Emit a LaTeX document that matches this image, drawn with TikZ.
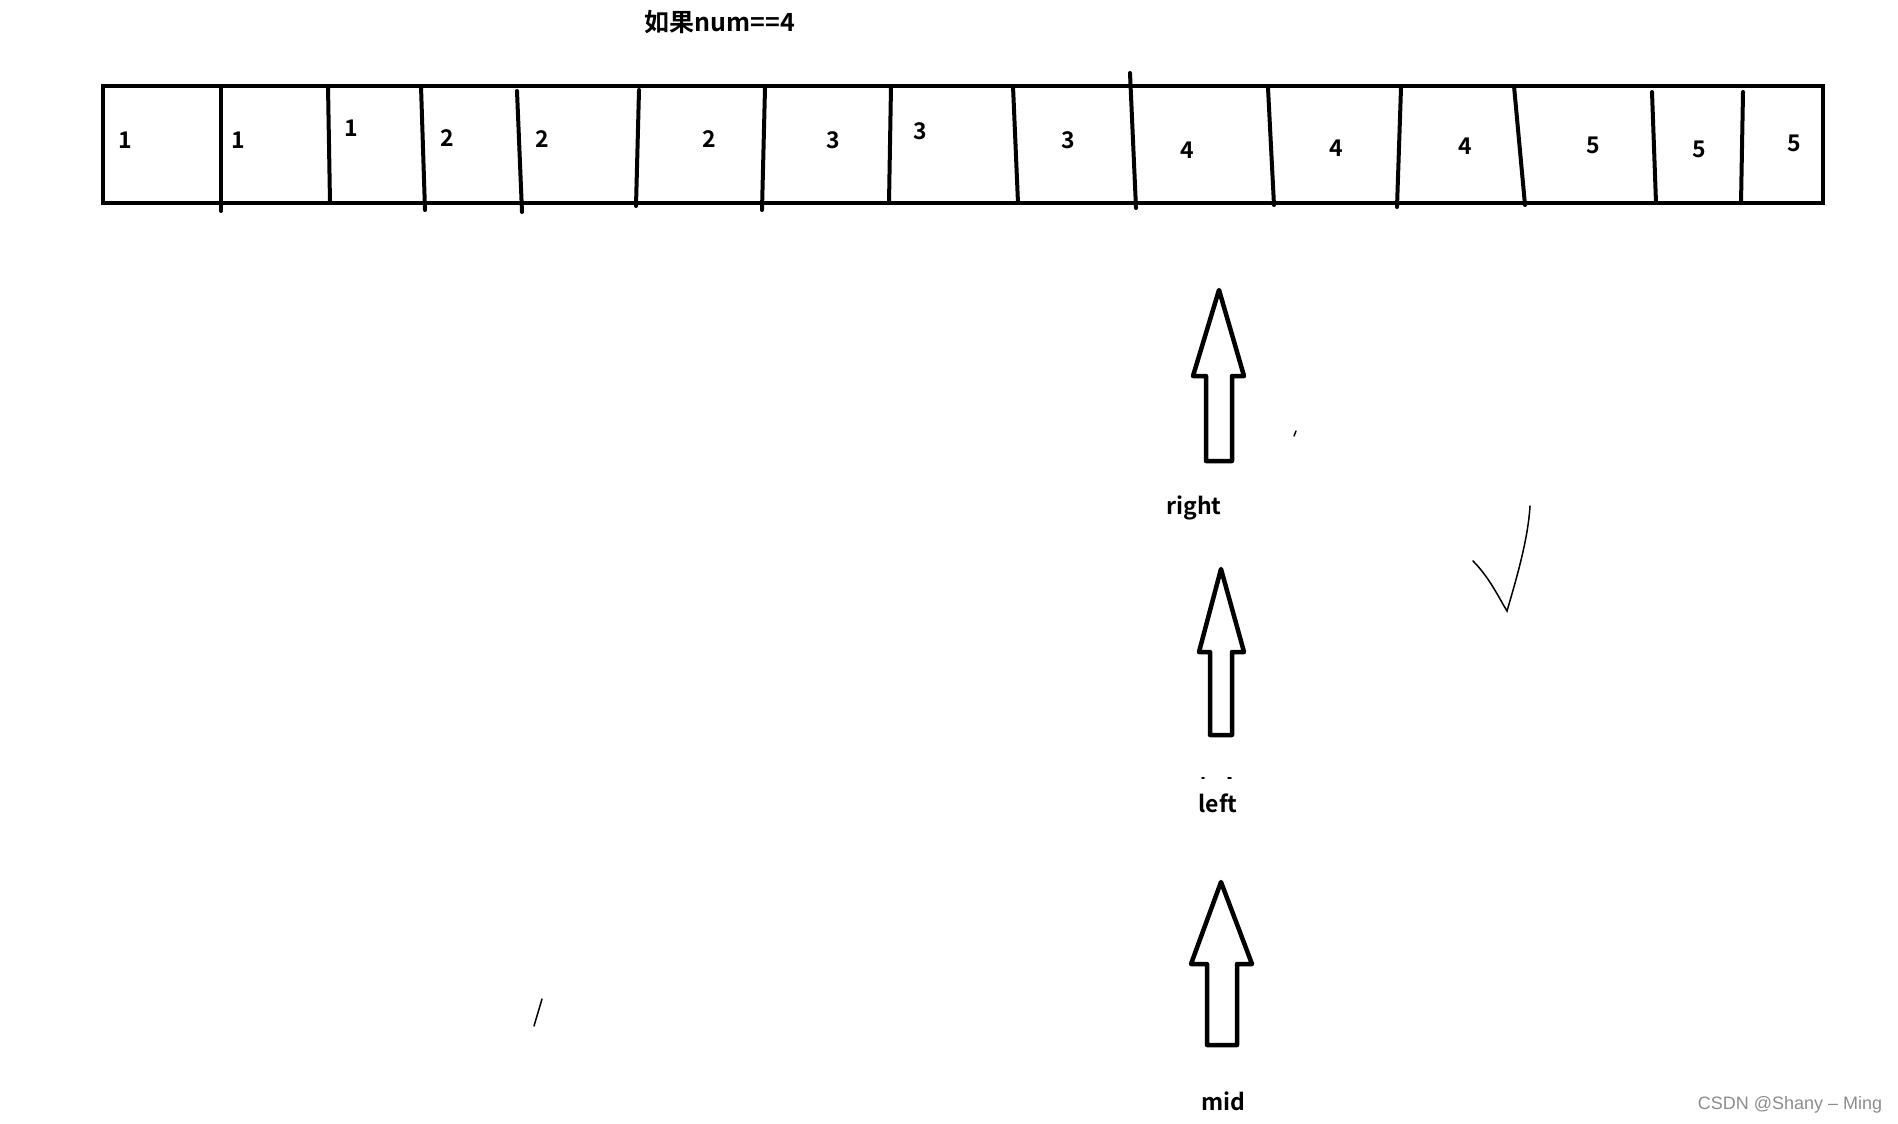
\documentclass[tikz,border=0pt]{standalone}
\usepackage{fontspec}
\setmainfont{Noto Sans CJK SC}[BoldFont={Noto Sans CJK SC Bold}]
\newfontfamily\marksans{Liberation Sans}

\begin{document}
\begin{tikzpicture}[x=1pt, y=-1pt,
        cell/.style={line width=4pt},
        num/.style={font=\bfseries\fontsize{23}{23}\selectfont, inner sep=0pt},
        tag/.style={font=\bfseries\fontsize{23}{23}\selectfont, inner sep=0pt},
        blockarrow/.style={line width=4.5pt, line join=round},
        stroke/.style={line width=1.5pt, line cap=round}
    ]
        \useasboundingbox (0,0) rectangle (1898,1124);

        \node[font=\bfseries\fontsize{25}{25}\selectfont, inner sep=0pt] (title) at (720,22) {如果num==4};

        % the array
        \draw[cell] (103,86) rectangle (1823,203);
        \foreach \xa/\ya/\xb/\yb in {221/86/221/211, 328/86/330/203, 421/86/425/210,
            517/91/522/212, 639/90/636/206, 765/88/762/210, 891/86/889/203,
            1013/86/1018/203, 1130/73/1136/208, 1268/88/1274/205, 1401/88/1397/207,
            1514/86/1525/205, 1652/92/1656/203, 1743/92/1741/203}
            \draw[cell, line cap=round] (\xa,\ya) -- (\xb,\yb);

        \foreach \x/\y/\v [count=\i] in {125/140/1, 238/140/1, 351/128/1, 447/138/2,
            542/139/2, 709/139/2, 833/140/3, 920/131/3, 1068/140/3, 1187/150/4,
            1336/148/4, 1465/146/4, 1593/145/5, 1699/149/5, 1794/143/5}
            \node[num] (n\i) at (\x,\y) {\v};

        % pointers
        \foreach \tx/\ty/\hl/\hr/\hy/\sl/\sr/\by in {1219/290/1193/1244/376/1206/1232/461,
            1221/569/1199/1244/652/1210/1232/735, 1221/882/1191/1252/964/1207/1237/1045}
            \draw[blockarrow] (\tx,\ty) -- (\hr,\hy) -- (\sr,\hy) -- (\sr,\by)
                -- (\sl,\by) -- (\sl,\hy) -- (\hl,\hy) -- cycle;

        \node[tag] (right) at (1194,508) {right};
        \node[tag] (left) at (1218,803) {left};
        \node[tag] (mid) at (1223,1101) {mid};

        % stray pen marks
        \draw[stroke] (1294,436) -- (1296,431);
        \draw[stroke] (1473,561) .. controls (1490,578) and (1500,600) .. (1507,611)
            .. controls (1516,580) and (1528,540) .. (1530,506);
        \draw[stroke] (542,999) -- (534,1026);
        \draw[stroke] (1202,778) -- (1204,778);
        \draw[stroke] (1228,778) -- (1231,778);

        \node[font=\marksans\fontsize{18}{18}\selectfont, text=black!45, inner sep=0pt] (mark) at (1790,1105) {CSDN @Shany – Ming};
    \end{tikzpicture}
\end{document}
